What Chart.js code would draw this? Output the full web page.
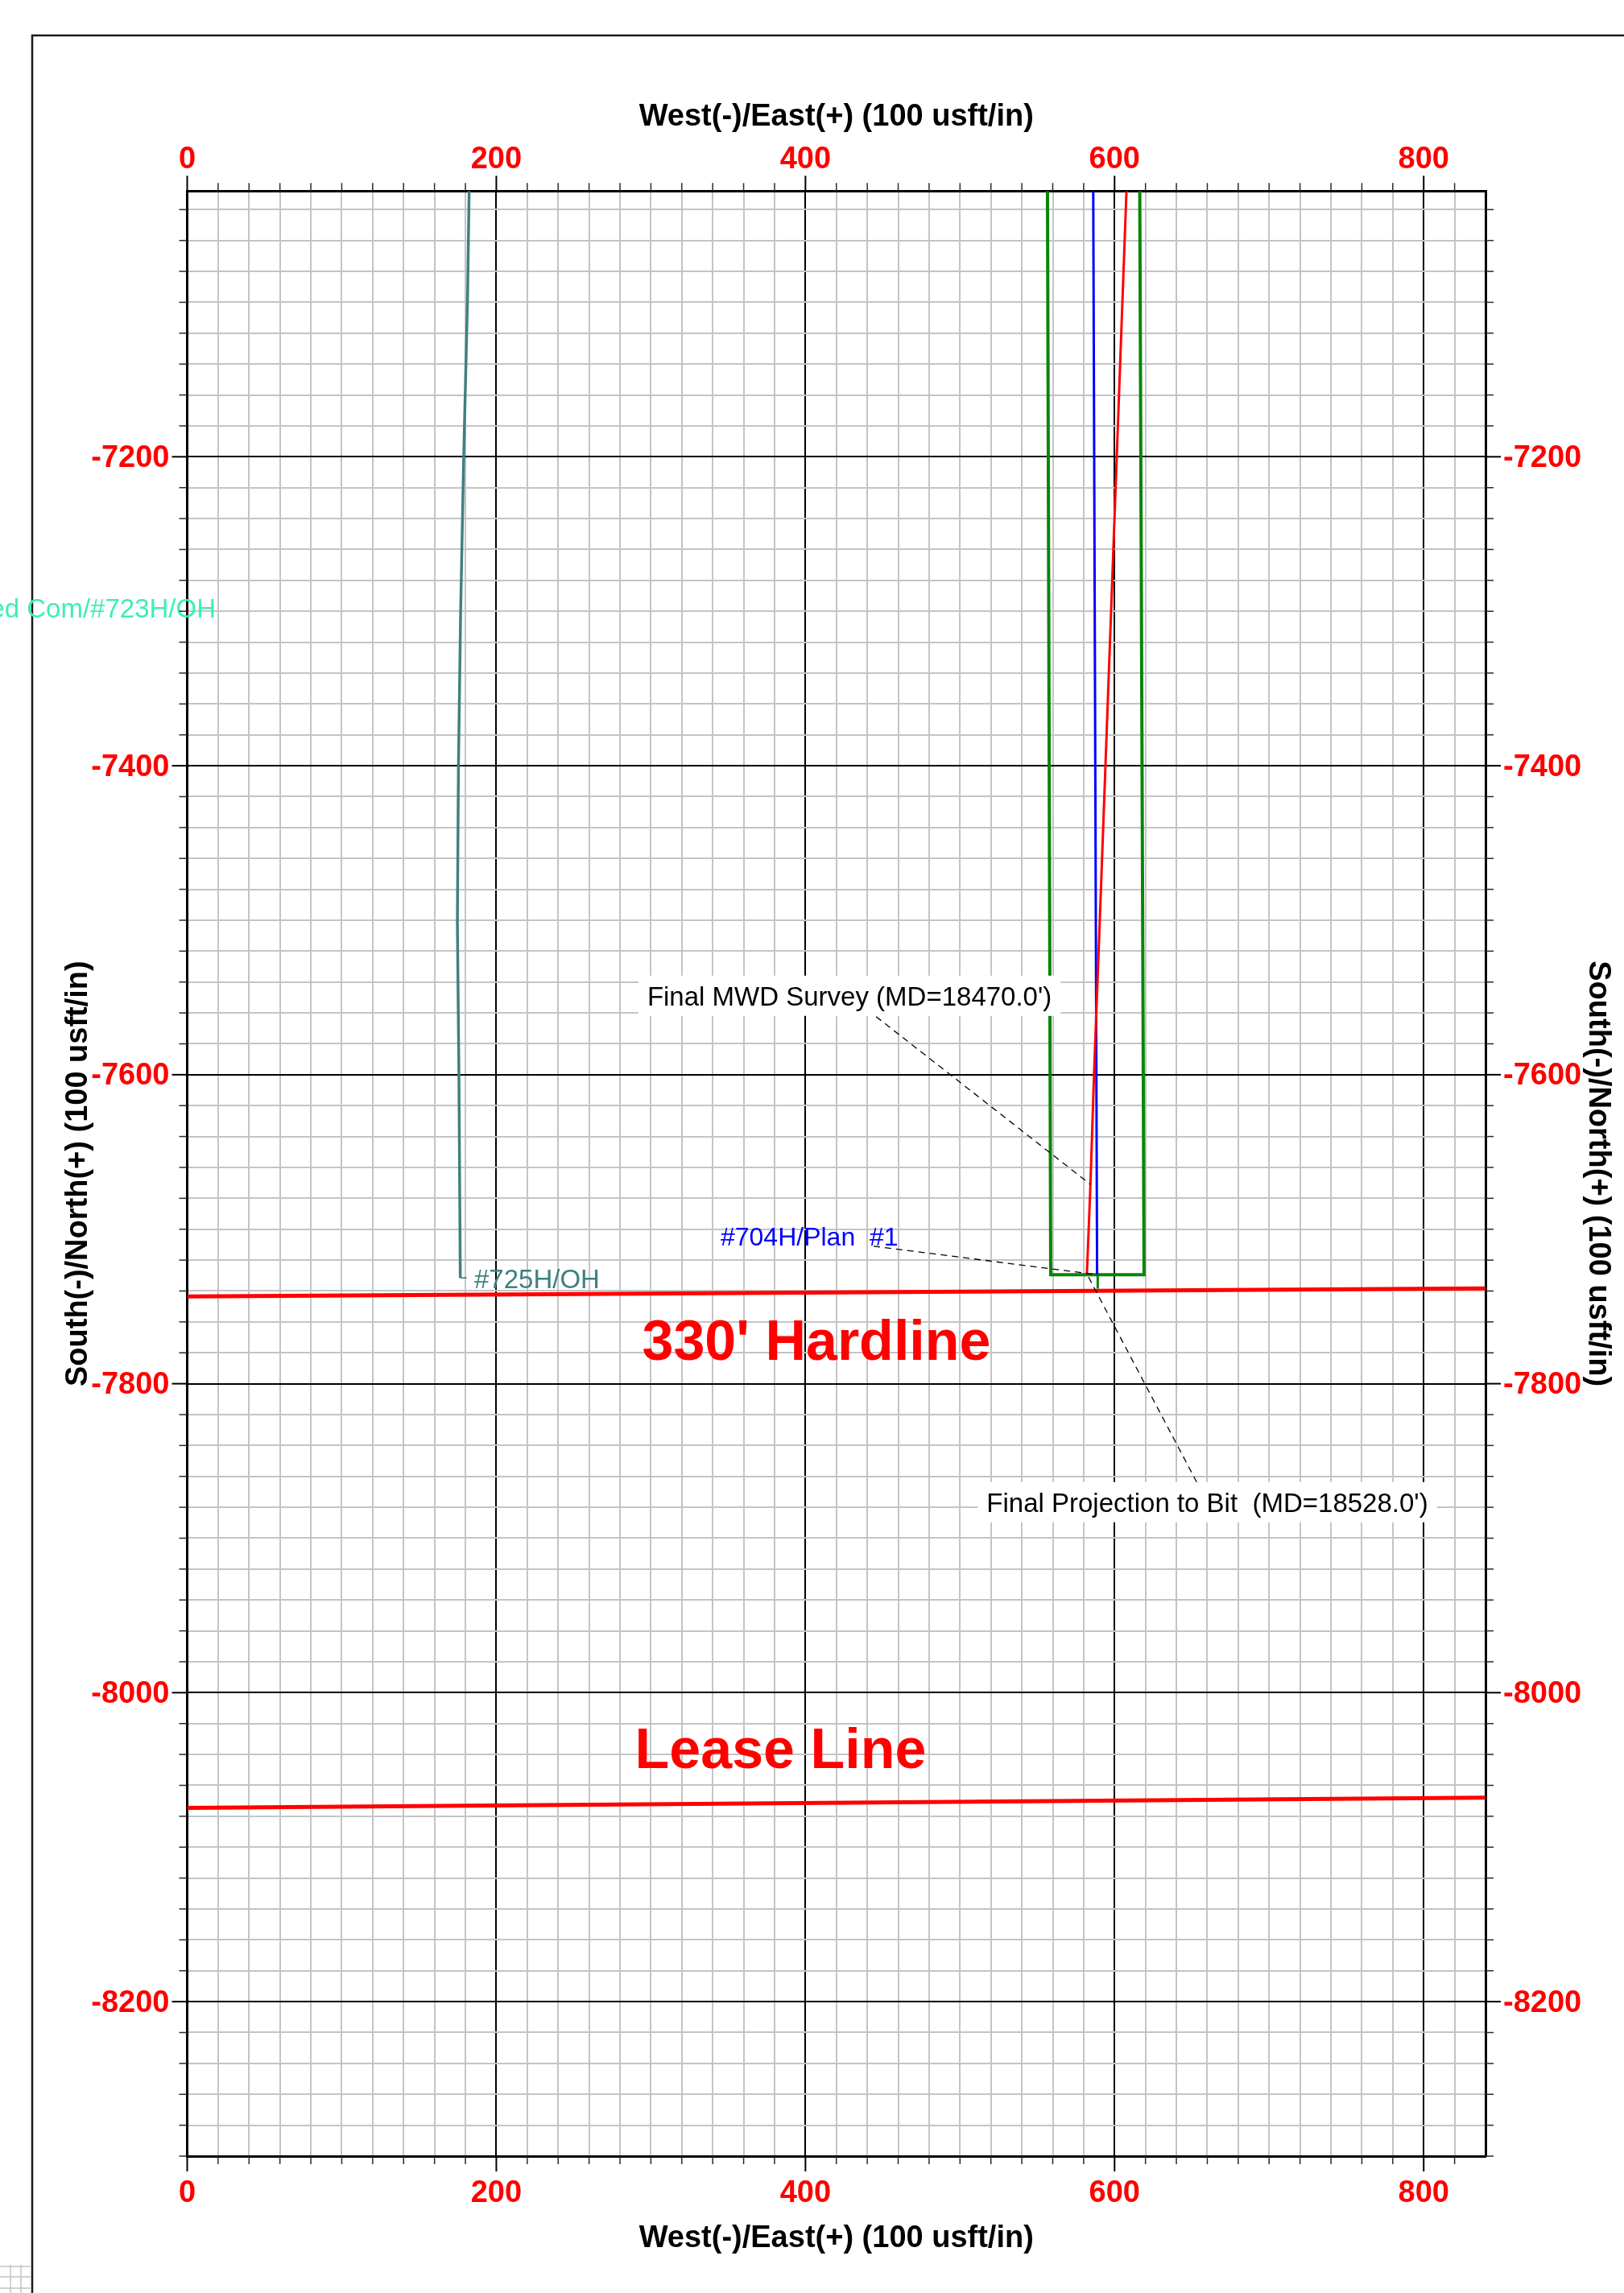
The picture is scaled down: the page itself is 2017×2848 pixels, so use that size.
<!DOCTYPE html>
<html>
<head>
<meta charset="utf-8">
<script src="https://cdn.jsdelivr.net/npm/chart.js@4.4.0/dist/chart.umd.min.js"></script>
<style>
html,body{margin:0;padding:0;background:#ffffff;}
canvas{display:block;}
</style>
</head>
<body>
<canvas id="c" width="2017" height="2848" style="width:2017px;height:2848px"></canvas>
<script>
// ================= DATA (usft) =================
const xRange = [0, 840];            // West(-)/East(+)
const yRange = [-8300, -7028];      // South(-)/North(+)
const xLabelValues = [0, 200, 400, 600, 800];
const yLabelValues = [-7200, -7400, -7600, -7800, -8000, -8200];

// offset well #725H/OH
const well725E = [182.4, 181.4, 178.9, 176.9, 175.5, 174.8, 175.8, 176.7];
const well725N = [-7028, -7096, -7200, -7301, -7400, -7501, -7600, -7731.5];
const well725TagE = [176.7, 180.7];
const well725TagN = [-7731.5, -7731.5];

// actual survey (red)
const surveyE = [607.7, 590.3, 586.7, 584.4, 582.1];
const surveyN = [-7028, -7504, -7600, -7671, -7729];

// #704H/Plan #1 (blue) and its tail to the hardline
const planE = [586.2, 587.9, 588.7];
const planN = [-7028, -7504, -7729.4];
const planTailE = [589.1, 589.1];
const planTailN = [-7729.4, -7738.4];

// target window (green)
const targetE = [556.6, 558.7, 619.1, 616.3];
const targetN = [-7028, -7729.4, -7729.4, -7028];

// 330' hardline and lease line
const hardlineE = [0, 840];
const hardlineN = [-7743.5, -7738.3];
const leaseE = [0, 840];
const leaseN = [-8074.6, -8068.0];

// leader lines (label anchor -> point)
const mwdLeaderE = [428.5, 584.4];
const mwdLeaderN = [-7548.9, -7671];
const planLeaderE = [444.1, 588.7];
const planLeaderN = [-7711, -7729.4];
const bitLeaderE = [660.0, 582.1];
const bitLeaderN = [-7876.7, -7729];

// annotation texts and anchors (anchor = cap-height centre of the text)
const annText = ["Final MWD Survey (MD=18470.0')", "Final Projection to Bit  (MD=18528.0')",
                 "#704H/Plan  #1", "#725H/OH", "ed Com/#723H/OH", "330' Hardline", "Lease Line"];
const annE = [428.5, 660.0, 345.1, 185.7, 18.5, 407.1, 383.9];
const annN = [-7548.9, -7876.7, -7704.7, -7731.8, -7297.8, -7771.5, -8035.6];

// ================= CHART =================
const FONT = 'Liberation Sans, Arial, Helvetica, sans-serif';
const pts = (xs, ys) => xs.map((x, i) => ({x: x, y: ys[i]}));
const isMajor = v => Math.abs(v % 200) < 1e-6;
function ds(data, color, width, dash) {
  return {data: data, borderColor: color, backgroundColor: color, borderWidth: width,
          borderDash: dash || [], showLine: true, pointRadius: 0, pointHoverRadius: 0,
          fill: false, tension: 0};
}
const tickFont = {family: FONT, size: 38, weight: 'bold', lineHeight: 1.2};
const titleFont = {family: FONT, size: 38, weight: 'bold', lineHeight: 1.2};
const gridColor = c => (c.tick && isMajor(c.tick.value)) ? '#000000' : '#c4c4c4';
const labelCb = v => (xLabelValues.includes(v) || yLabelValues.includes(v)) ? String(v) : '';

function xScale(pos, showGrid, tickPad, titlePad, size) {
  return {
    type: 'linear', position: pos, min: xRange[0], max: xRange[1],
    ticks: {stepSize: 20, autoSkip: false, maxRotation: 0, minRotation: 0, includeBounds: false,
            padding: tickPad, color: '#ff0000', font: tickFont, callback: labelCb},
    grid: {display: showGrid, color: gridColor, lineWidth: 2, drawTicks: false},
    border: {display: true, color: '#000000', width: 3},
    title: {display: true, text: 'West(-)/East(+) (100 usft/in)', color: '#000000', font: titleFont, padding: titlePad},
    afterFit: s => { s.height = size; }
  };
}
function yScale(pos, showGrid, titlePad, size) {
  return {
    type: 'linear', position: pos, min: yRange[0], max: yRange[1],
    ticks: {stepSize: 20, autoSkip: false, includeBounds: false, labelOffset: 2,
            padding: 22, color: '#ff0000', font: tickFont, callback: labelCb},
    grid: {display: showGrid, color: gridColor, lineWidth: 2, drawTicks: false},
    border: {display: true, color: '#000000', width: 3},
    title: {display: true, text: 'South(-)/North(+) (100 usft/in)', color: '#000000', font: titleFont, padding: titlePad},
    afterFit: s => { s.width = size; }
  };
}

// page frame, background and tick marks
const framePlugin = {
  id: 'frame',
  beforeDraw(chart) {
    const c = chart.ctx;
    c.save();
    c.fillStyle = '#ffffff';
    c.fillRect(0, 0, chart.width, chart.height);
    c.strokeStyle = '#1a1a1a';
    c.lineWidth = 2.5;
    c.beginPath();
    c.moveTo(40, chart.height); c.lineTo(40, 44); c.lineTo(chart.width, 44);
    c.stroke();
    // fragment of a neighbouring sheet at bottom-left
    c.strokeStyle = '#c4c4c4';
    c.lineWidth = 1.5;
    c.beginPath();
    [13, 26].forEach(x => { c.moveTo(x, 2813); c.lineTo(x, chart.height); });
    [2815, 2828, 2842].forEach(y => { c.moveTo(0, y); c.lineTo(38, y); });
    c.stroke();
    c.restore();
  },
  afterDraw(chart) {
    const c = chart.ctx, a = chart.chartArea;
    const xs = chart.scales.x, ys = chart.scales.y;
    c.save();
    const mark = (x1, y1, x2, y2, major) => {
      c.strokeStyle = major ? '#000000' : '#2a2a2a';
      c.lineWidth = major ? 2 : 1.5;
      c.beginPath(); c.moveTo(x1, y1); c.lineTo(x2, y2); c.stroke();
    };
    xs.ticks.forEach(t => {
      if (t.value >= xRange[1]) return;
      const p = xs.getPixelForValue(t.value), m = isMajor(t.value), L = m ? 19 : 10;
      mark(p, a.top - L, p, a.top, m);
      mark(p, a.bottom, p, a.bottom + L, m);
    });
    ys.ticks.forEach(t => {
      if (t.value >= yRange[1]) return;
      const p = ys.getPixelForValue(t.value), m = isMajor(t.value), L = m ? 19 : 10;
      mark(a.left - L, p, a.left, p, m);
      mark(a.right, p, a.right + L, p, m);
    });
    c.restore();
  }
};

// annotation labels
const labelPlugin = {
  id: 'labels',
  afterDatasetsDraw(chart) {
    const c = chart.ctx, xs = chart.scales.x, ys = chart.scales.y;
    const styles = [
      {size: 33, bold: false, color: '#000000', align: 'center', box: true},
      {size: 33, bold: false, color: '#000000', align: 'center', box: true},
      {size: 32, bold: false, color: '#0000ff', align: 'left', box: false},
      {size: 33, bold: false, color: '#408080', align: 'left', box: false},
      {size: 33, bold: false, color: '#3cf0b4', align: 'right', box: false},
      {size: 70, bold: true, color: '#ff0000', align: 'center', box: false},
      {size: 70, bold: true, color: '#ff0000', align: 'center', box: false}
    ];
    c.save();
    annText.forEach((txt, i) => {
      const st = styles[i];
      const px = xs.getPixelForValue(annE[i]);
      const py = ys.getPixelForValue(annN[i]);
      c.font = (st.bold ? 'bold ' : '') + st.size + 'px ' + FONT;
      c.textAlign = st.align;
      c.textBaseline = 'alphabetic';
      if (st.box) {
        const w = c.measureText(txt).width + 22;
        c.fillStyle = '#ffffff';
        c.fillRect(px - w / 2, py - 25, w, 50);
      }
      c.fillStyle = st.color;
      c.fillText(txt, px, py + 0.358 * st.size);
    });
    c.restore();
  }
};

new Chart(document.getElementById('c'), {
  type: 'scatter',
  data: {
    datasets: [
      ds(pts(mwdLeaderE, mwdLeaderN), '#000000', 1.3, [8, 6]),
      ds(pts(planLeaderE, planLeaderN), '#000000', 1.3, [8, 6]),
      ds(pts(bitLeaderE, bitLeaderN), '#000000', 1.3, [8, 6]),
      ds(pts(surveyE, surveyN), '#ff0000', 3),
      ds(pts(planE, planN), '#0000ff', 3),
      ds(pts(planTailE, planTailN), '#088508', 3),
      ds(pts(targetE, targetN), '#088508', 4),
      ds(pts(well725E, well725N), '#408080', 3.5),
      ds(pts(well725TagE, well725TagN), '#2f4f4f', 1.2),
      ds(pts(hardlineE, hardlineN), '#ff0000', 5),
      ds(pts(leaseE, leaseN), '#ff0000', 5)
    ]
  },
  options: {
    responsive: false,
    maintainAspectRatio: false,
    animation: false,
    devicePixelRatio: 1,
    events: [],
    layout: {padding: 0},
    plugins: {legend: {display: false}, tooltip: {enabled: false}, title: {display: false}},
    scales: {
      x: xScale('bottom', true, 24, {top: 0, bottom: 45}, 170),
      x2: xScale('top', false, 16, {top: 123, bottom: 0}, 237.3),
      y: yScale('left', true, {top: 75, bottom: 0}, 232.5),
      y2: yScale('right', false, {top: 10, bottom: 0}, 172)
    }
  },
  plugins: [framePlugin, labelPlugin]
});
</script>
</body>
</html>
